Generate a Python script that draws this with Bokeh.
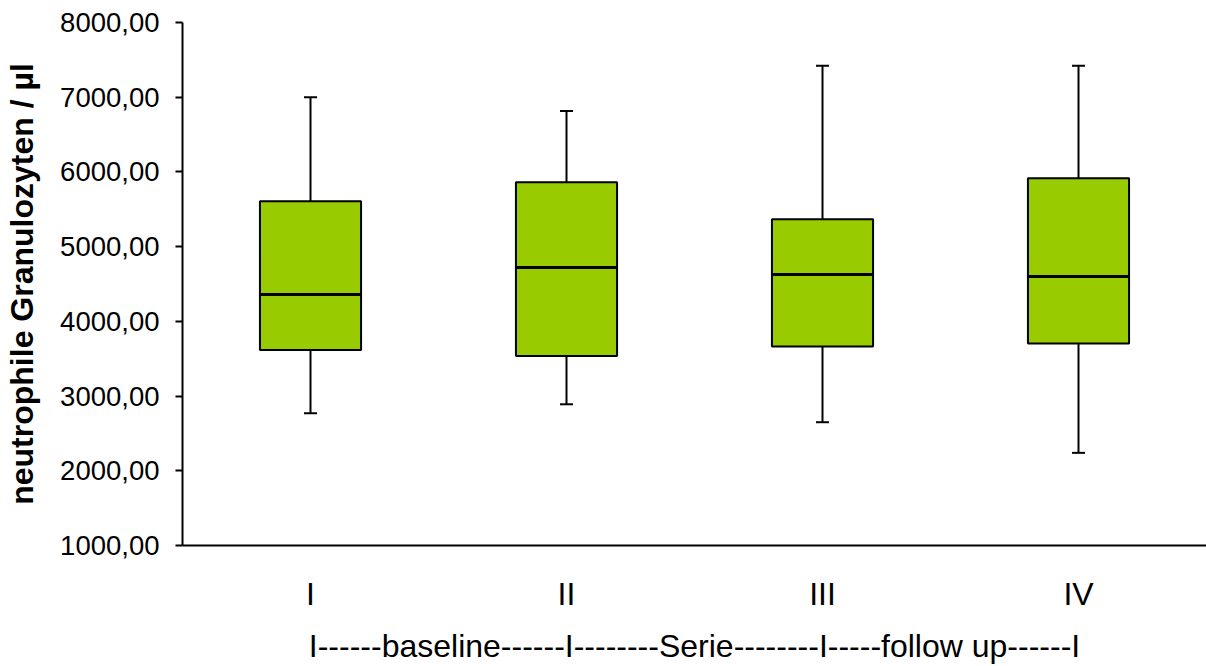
from bokeh.plotting import figure
from bokeh.models import ColumnDataSource, FixedTicker
from bokeh.transform import dodge
from bokeh.embed import file_html
from bokeh.resources import INLINE

# ---- data ----
categories = ["I", "II", "III", "IV"]
lower_whisker = [2770, 2890, 2650, 2240]
q1 = [3615, 3535, 3665, 3705]
median = [4358, 4720, 4626, 4600]
q3 = [5608, 5862, 5368, 5916]
upper_whisker = [7000, 6815, 7420, 7420]

y_ticks = [1000, 2000, 3000, 4000, 5000, 6000, 7000, 8000]
y_tick_labels = ["1000,00", "2000,00", "3000,00", "4000,00",
                 "5000,00", "6000,00", "7000,00", "8000,00"]

y_title = "neutrophile Granulozyten / µl"
x_title = "I------baseline------I--------Serie--------I-----follow up------I"

FONT = "Liberation Sans"
GREEN = "#99CC00"
BOX_W = 0.395

src = ColumnDataSource(dict(cat=categories, lo=lower_whisker, q1=q1,
                            med=median, q3=q3, hi=upper_whisker))

p = figure(x_range=categories, y_range=(1000, 8000),
           width=1206, height=666, output_backend="svg",
           toolbar_location=None,
           min_border_left=182, min_border_right=0,
           min_border_top=22, min_border_bottom=120)

p.outline_line_color = None
p.xgrid.grid_line_color = None
p.ygrid.grid_line_color = None
p.background_fill_color = "white"
p.border_fill_color = "white"

# whiskers
p.segment(x0="cat", y0="q3", x1="cat", y1="hi", source=src,
          line_color="black", line_width=2)
p.segment(x0="cat", y0="lo", x1="cat", y1="q1", source=src,
          line_color="black", line_width=2)
# caps
p.scatter(x="cat", y="hi", source=src, marker="dash", size=13,
          line_color="black", line_width=2)
p.scatter(x="cat", y="lo", source=src, marker="dash", size=13,
          line_color="black", line_width=2)
# boxes
p.vbar(x="cat", bottom="q1", top="q3", width=BOX_W, source=src,
       fill_color=GREEN, line_color="black", line_width=2)
# medians
p.segment(x0=dodge("cat", -BOX_W / 2, range=p.x_range), y0="med",
          x1=dodge("cat", BOX_W / 2, range=p.x_range), y1="med",
          source=src, line_color="black", line_width=3)

# y axis
yax = p.yaxis[0]
yax.ticker = FixedTicker(ticks=y_ticks)
yax.major_label_overrides = {t: l for t, l in zip(y_ticks, y_tick_labels)}
yax.minor_tick_line_color = None
yax.major_tick_out = 7
yax.major_tick_in = 0
yax.major_tick_line_width = 2
yax.axis_line_width = 2
yax.axis_line_color = "black"
yax.major_tick_line_color = "black"
yax.major_label_text_font = FONT
yax.major_label_text_font_size = "27.5px"
yax.major_label_text_color = "black"
yax.major_label_standoff = 16
yax.axis_label = y_title
yax.axis_label_text_font = FONT
yax.axis_label_text_font_style = "bold"
yax.axis_label_text_font_size = "32px"
yax.axis_label_text_color = "black"
yax.axis_label_standoff = 17

# x axis
xax = p.xaxis[0]
xax.major_tick_line_color = None
xax.minor_tick_line_color = None
xax.major_tick_out = 0
xax.major_tick_in = 0
xax.axis_line_width = 2
xax.axis_line_color = "black"
xax.major_label_text_font = FONT
xax.major_label_text_font_size = "32px"
xax.major_label_text_color = "black"
xax.major_label_standoff = 30
xax.axis_label = x_title
xax.axis_label_text_font = FONT
xax.axis_label_text_font_style = "normal"
xax.axis_label_text_font_size = "32px"
xax.axis_label_text_color = "black"
xax.axis_label_standoff = 13

open("out.html", "w").write(file_html(p, INLINE))
